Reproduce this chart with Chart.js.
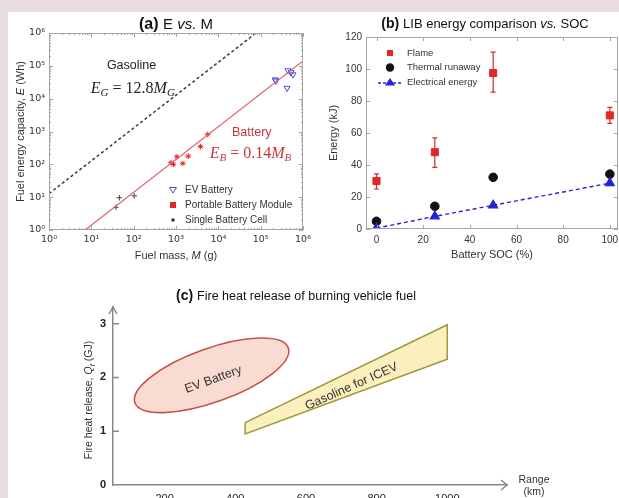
<!DOCTYPE html>
<html>
<head>
<meta charset="utf-8">
<script src="https://cdn.jsdelivr.net/npm/chart.js@4.4.1/dist/chart.umd.min.js"></script>
<style>
html, body { margin: 0; padding: 0; width: 619px; height: 498px; overflow: hidden; background: #e9dee4; }
#sheet { position: absolute; left: 8px; top: 12px; right: 0; bottom: 0; background: #fff; }
canvas { position: absolute; }
#chartA { left: 0; top: 0; }
#chartB { left: 320px; top: 0; }
#chartC { left: 0; top: 270px; }
</style>
</head>
<body>
<div id="sheet"></div>
<canvas id="chartA" width="320" height="270"></canvas>
<canvas id="chartB" width="310" height="270"></canvas>
<canvas id="chartC" width="619" height="240"></canvas>
<script>
// (a) fuel energy vs mass (log-log)
const evMass = [2.3e5, 2.2e5, 4.4e5, 5.8e5, 5.2e5, 4.2e5];
const evEnergy = [3.5e4, 3.8e4, 7.2e4, 5.4e4, 6.3e4, 2.1e4];
const moduleMass = [760, 870, 1050, 1450, 1950, 3800, 5600];
const moduleEnergy = [112, 100, 170, 107, 178, 347, 813];
const cellMass = [46, 38, 103];
const cellEnergy = [9.6, 4.9, 11];
const gasFitMass = [1, 78000];
const gasFitEnergy = [12.8, 1e6];
const batFitMass = [7.1, 1e6];
const batFitEnergy = [1, 1.4e5];
const logTicks = [1, 10, 100, 1e3, 1e4, 1e5, 1e6];
const logTickLabels = ['10⁰', '10¹', '10²', '10³', '10⁴', '10⁵', '10⁶'];

// (b) LIB energy vs SOC
const socLevels = [0, 25, 50, 100];
const flameEnergy = [30, 48, 97.5, 71];
const flameLow = [25, 38.5, 85.5, 66];
const flameHigh = [34.5, 57, 110.5, 76];
const thermalEnergy = [4.8, 14.2, 32.3, 34.3];
const electricalEnergy = [0.5, 7.9, 14.8, 28.7];
const socTicks = [0, 20, 40, 60, 80, 100];
const energyTicks = [0, 20, 40, 60, 80, 100, 120];

// (c) fire heat release vs range (schematic)
const rangeTicks = [200, 400, 600, 800, 1000];
const heatTicks = [0, 1, 2, 3];
const gasBandRange = [428, 1000, 1000, 428, 428];
const gasBandHeat = [1.16, 2.98, 2.34, 0.95, 1.16];
const evEllipseRange = [116, 550];   // ends of the long axis
const evEllipseHeat = [1.53, 2.55];

const SANS = "'Liberation Sans', Arial, sans-serif";
const SERIF = "'Liberation Serif', 'Times New Roman', serif";
Chart.defaults.font.family = SANS;
Chart.defaults.color = '#333';

function pts(xs, ys) {
    return xs.map((x, i) => ({ x: x, y: ys[i] }));
}

// mixed-font text centred on (x, y): parts = [text, font, dy]
function drawRich(ctx, parts, x, y, color, angle) {
    ctx.save();
    ctx.translate(x, y);
    if (angle) ctx.rotate(angle);
    let w = 0;
    parts.forEach(p => { ctx.font = p[1]; w += ctx.measureText(p[0]).width; });
    let cx = -w / 2;
    ctx.fillStyle = color;
    ctx.textAlign = 'left';
    ctx.textBaseline = 'alphabetic';
    parts.forEach(p => {
        ctx.font = p[1];
        ctx.fillText(p[0], cx, p[2] || 0);
        cx += ctx.measureText(p[0]).width;
    });
    ctx.restore();
}

// box round the plot with inward ticks
function drawFrame(chart, logMinor) {
    const { ctx, chartArea: a, scales } = chart;
    ctx.save();
    ctx.strokeStyle = '#a5a5a5';
    ctx.lineWidth = 1;
    ctx.strokeRect(a.left + 0.5, a.top + 0.5, a.right - a.left - 1, a.bottom - a.top - 1);
    ctx.beginPath();
    const xTick = (v, len) => {
        const px = Math.round(scales.x.getPixelForValue(v)) + 0.5;
        ctx.moveTo(px, a.bottom); ctx.lineTo(px, a.bottom - len);
        ctx.moveTo(px, a.top); ctx.lineTo(px, a.top + len);
    };
    const yTick = (v, len) => {
        const py = Math.round(scales.y.getPixelForValue(v)) + 0.5;
        ctx.moveTo(a.left, py); ctx.lineTo(a.left + len, py);
        ctx.moveTo(a.right, py); ctx.lineTo(a.right - len, py);
    };
    scales.x.ticks.forEach(t => xTick(t.value, 4));
    scales.y.ticks.forEach(t => yTick(t.value, 4));
    if (logMinor) {
        for (let k = 0; k < 6; k++) {
            for (let m = 2; m < 10; m++) {
                xTick(m * Math.pow(10, k), 2);
                yTick(m * Math.pow(10, k), 2);
            }
        }
    }
    ctx.stroke();
    ctx.restore();
}

function legendMarker(ctx, style, x, y, color) {
    ctx.save();
    ctx.strokeStyle = color;
    ctx.fillStyle = color;
    ctx.lineWidth = 1;
    ctx.beginPath();
    if (style === 'downTri') {
        ctx.moveTo(x - 3.5, y - 2.5); ctx.lineTo(x + 3.5, y - 2.5); ctx.lineTo(x, y + 3); ctx.closePath();
        ctx.stroke();
    } else if (style === 'square') {
        ctx.rect(x - 3, y - 3, 6, 6); ctx.fill();
    } else if (style === 'dot') {
        ctx.arc(x, y, 1.8, 0, Math.PI * 2); ctx.fill();
    } else if (style === 'circle') {
        ctx.arc(x, y, 4.2, 0, Math.PI * 2); ctx.fill();
    } else if (style === 'triLine') {
        ctx.setLineDash([3, 2]);
        ctx.lineWidth = 1.4;
        ctx.moveTo(x - 12, y + 1); ctx.lineTo(x + 12, y + 1); ctx.stroke();
        ctx.setLineDash([]);
        ctx.beginPath();
        ctx.moveTo(x, y - 4); ctx.lineTo(x + 5, y + 3.5); ctx.lineTo(x - 5, y + 3.5); ctx.closePath();
        ctx.fill();
    }
    ctx.restore();
}

const baseOptions = {
    responsive: false,
    animation: false,
    events: [],
    plugins: { legend: { display: false }, tooltip: { enabled: false } }
};

// ---------- (a) ----------
const panelA = {
    id: 'panelA',
    afterDraw(chart) {
        const { ctx, chartArea: a, scales: { x, y } } = chart;
        drawFrame(chart, true);
        const cx = (a.left + a.right) / 2;
        drawRich(ctx, [['(a) ', 'bold 16px ' + SANS], ['E ', '15px ' + SANS], ['vs.', 'italic 15px ' + SANS], [' M', '15px ' + SANS]], cx, 29, '#111');

        // axis titles
        drawRich(ctx, [['Fuel mass, ', '11px ' + SANS], ['M', 'italic 11px ' + SANS], [' (g)', '11px ' + SANS]], cx, 259, '#333');
        drawRich(ctx, [['Fuel energy capacity, ', '11px ' + SANS], ['E', 'italic 11px ' + SANS], [' (Wh)', '11px ' + SANS]], 24, (a.top + a.bottom) / 2, '#333', -Math.PI / 2);

        const at = (lm, le) => [x.getPixelForValue(Math.pow(10, lm)), y.getPixelForValue(Math.pow(10, le))];
        let p = at(1.95, 5.03);
        drawRich(ctx, [['Gasoline', '12.5px ' + SANS]], p[0], p[1] + 4, '#222');
        p = at(1.98, 4.33);
        drawRich(ctx, [['E', 'italic 16px ' + SERIF], ['G', 'italic 11px ' + SERIF, 3], [' = 12.8', '16px ' + SERIF], ['M', 'italic 16px ' + SERIF], ['G', 'italic 11px ' + SERIF, 3]], p[0], p[1] + 5, '#222');
        p = at(4.79, 2.99);
        drawRich(ctx, [['Battery', '12.5px ' + SANS]], p[0], p[1] + 4, '#c9343c');
        p = at(4.76, 2.34);
        drawRich(ctx, [['E', 'italic 16px ' + SERIF], ['B', 'italic 11px ' + SERIF, 3], [' = 0.14', '16px ' + SERIF], ['M', 'italic 16px ' + SERIF], ['B', 'italic 11px ' + SERIF, 3]], p[0], p[1] + 5, '#c9343c');

        // legend
        const rows = [['EV Battery', 'downTri', '#4a4ad0'], ['Portable Battery Module', 'square', '#e02828'], ['Single Battery Cell', 'dot', '#333']];
        rows.forEach((r, i) => {
            const ly = 190 + i * 15;
            legendMarker(ctx, r[1], 173, ly, r[2]);
            ctx.font = '10px ' + SANS;
            ctx.fillStyle = '#333';
            ctx.textAlign = 'left';
            ctx.textBaseline = 'middle';
            ctx.fillText(r[0], 185, ly);
        });
    }
};

const logTickFont = { size: 9.5, family: "'DejaVu Sans', sans-serif" };

new Chart(document.getElementById('chartA'), {
    type: 'scatter',
    data: {
        datasets: [
            { label: 'Gasoline fit', data: pts(gasFitMass, gasFitEnergy), showLine: true, borderColor: '#3c3c3c', borderWidth: 1.5, borderDash: [3, 2.5], pointRadius: 0 },
            { label: 'Battery fit', data: pts(batFitMass, batFitEnergy), showLine: true, borderColor: '#e46a70', borderWidth: 1.3, pointRadius: 0 },
            { label: 'EV Battery', data: pts(evMass, evEnergy), pointStyle: 'triangle', rotation: 180, pointRadius: 3.5, borderColor: '#4a4ad0', borderWidth: 1, backgroundColor: 'rgba(0,0,0,0)' },
            { label: 'Portable Battery Module', data: pts(moduleMass, moduleEnergy), pointStyle: 'star', pointRadius: 2.8, borderColor: '#e02828', borderWidth: 1 },
            { label: 'Single Battery Cell', data: pts(cellMass, cellEnergy), pointStyle: 'cross', pointRadius: 2.8, borderColor: '#444', borderWidth: 1 }
        ]
    },
    options: {
        ...baseOptions,
        layout: { padding: { left: 14, top: 33, right: 17, bottom: 8 } },
        scales: {
            x: {
                type: 'logarithmic', min: 1, max: 1e6,
                afterBuildTicks: s => { s.ticks = logTicks.map(v => ({ value: v })); },
                afterFit: s => { s.height = 32; },
                grid: { display: false, drawTicks: false },
                border: { display: false },
                ticks: { callback: (v, i) => logTickLabels[i], padding: 4, autoSkip: false, maxRotation: 0, font: logTickFont }
            },
            y: {
                type: 'logarithmic', min: 1, max: 1e6,
                afterBuildTicks: s => { s.ticks = logTicks.map(v => ({ value: v })); },
                afterFit: s => { s.width = 35; },
                grid: { display: false, drawTicks: false },
                border: { display: false },
                ticks: { callback: (v, i) => logTickLabels[i], padding: 4, autoSkip: false, font: logTickFont }
            }
        }
    },
    plugins: [panelA]
});

// ---------- (b) ----------
const panelB = {
    id: 'panelB',
    beforeDatasetsDraw(chart) {
        const { ctx, scales: { x, y } } = chart;
        ctx.save();
        ctx.strokeStyle = '#d62a2a';
        ctx.lineWidth = 1.2;
        ctx.beginPath();
        socLevels.forEach((s, i) => {
            const px = x.getPixelForValue(s);
            const lo = y.getPixelForValue(flameLow[i]);
            const hi = y.getPixelForValue(flameHigh[i]);
            ctx.moveTo(px, lo); ctx.lineTo(px, hi);
            ctx.moveTo(px - 2.5, lo); ctx.lineTo(px + 2.5, lo);
            ctx.moveTo(px - 2.5, hi); ctx.lineTo(px + 2.5, hi);
        });
        ctx.stroke();
        ctx.restore();
    },
    afterDraw(chart) {
        const { ctx } = chart;
        drawFrame(chart, false);
        drawRich(ctx, [['(b) ', 'bold 14px ' + SANS], ['LIB energy comparison ', '13px ' + SANS], ['vs.', 'italic 13px ' + SANS], [' SOC', '13px ' + SANS]], 165, 28, '#111');
        const rows = [['Flame', 'square', '#e02828'], ['Thermal runaway', 'circle', '#111'], ['Electrical energy', 'triLine', '#2424d8']];
        rows.forEach((r, i) => {
            const ly = 53 + i * 14.5;
            legendMarker(ctx, r[1], 70, ly, r[2]);
            ctx.font = '9.5px ' + SANS;
            ctx.fillStyle = '#333';
            ctx.textAlign = 'left';
            ctx.textBaseline = 'middle';
            ctx.fillText(r[0], 87, ly);
        });
    }
};

new Chart(document.getElementById('chartB'), {
    type: 'scatter',
    data: {
        datasets: [
            { label: 'Electrical energy', data: pts(socLevels, electricalEnergy), showLine: true, borderColor: '#2424d8', borderWidth: 1.4, borderDash: [4, 3], pointStyle: 'triangle', pointRadius: 5, backgroundColor: '#2424d8', pointBorderColor: '#2424d8' },
            { label: 'Thermal runaway', data: pts(socLevels, thermalEnergy), pointStyle: 'circle', pointRadius: 4.3, backgroundColor: '#111', borderColor: '#111' },
            { label: 'Flame', data: pts(socLevels, flameEnergy), pointStyle: 'rect', pointRadius: 5, backgroundColor: '#e02828', borderColor: '#e02828' }
        ]
    },
    options: {
        ...baseOptions,
        layout: { padding: { left: 7, top: 37, right: 12, bottom: 8 } },
        scales: {
            x: {
                type: 'linear', min: -4.5, max: 103.5,
                afterBuildTicks: s => { s.ticks = socTicks.map(v => ({ value: v })); },
                afterFit: s => { s.height = 33; },
                grid: { display: false, drawTicks: false },
                border: { display: false },
                ticks: { padding: 5, autoSkip: false, maxRotation: 0, font: { size: 10 } },
                title: { display: true, text: 'Battery SOC (%)', padding: 0, font: { size: 11 } }
            },
            y: {
                type: 'linear', min: 0, max: 120,
                afterBuildTicks: s => { s.ticks = energyTicks.map(v => ({ value: v })); },
                afterFit: s => { s.width = 39; },
                grid: { display: false, drawTicks: false },
                border: { display: false },
                ticks: { padding: 4, autoSkip: false, font: { size: 10 } },
                title: { display: true, text: 'Energy (kJ)', padding: 0, font: { size: 11 } }
            }
        }
    },
    plugins: [panelB]
});

// ---------- (c) ----------
const panelC = {
    id: 'panelC',
    beforeDatasetsDraw(chart) {
        const { ctx, scales: { x, y } } = chart;
        const x1 = x.getPixelForValue(evEllipseRange[0]), y1 = y.getPixelForValue(evEllipseHeat[0]);
        const x2 = x.getPixelForValue(evEllipseRange[1]), y2 = y.getPixelForValue(evEllipseHeat[1]);
        const rx = Math.hypot(x2 - x1, y2 - y1) / 2;
        ctx.save();
        ctx.beginPath();
        ctx.ellipse((x1 + x2) / 2, (y1 + y2) / 2, rx, rx * 0.33, Math.atan2(y2 - y1, x2 - x1), 0, Math.PI * 2);
        ctx.fillStyle = '#f8dcd2';
        ctx.fill();
        ctx.strokeStyle = '#c9504c';
        ctx.lineWidth = 1.6;
        ctx.stroke();
        ctx.restore();
    },
    afterDraw(chart) {
        const { ctx, chartArea: a, scales: { x, y } } = chart;
        drawRich(ctx, [['(c) ', 'bold 14px ' + SANS], ['Fire heat release of burning vehicle fuel', '12.5px ' + SANS]], 296, 30, '#111');
        drawRich(ctx, [['Fire heat release, ', '10.5px ' + SANS], ['Q', 'italic 10.5px ' + SANS], ['f', 'italic 8px ' + SANS, 2.5], [' (GJ)', '10.5px ' + SANS]], 92, (a.top + a.bottom) / 2 + 4, '#333', -Math.PI / 2);

        // arrow heads and inward ticks
        ctx.save();
        ctx.strokeStyle = '#888';
        ctx.lineWidth = 1.5;
        ctx.beginPath();
        ctx.moveTo(a.left - 4, a.top + 7); ctx.lineTo(a.left, a.top); ctx.lineTo(a.left + 4, a.top + 7);
        ctx.moveTo(a.right - 6, a.bottom - 5); ctx.lineTo(a.right, a.bottom); ctx.lineTo(a.right - 6, a.bottom + 5);
        heatTicks.slice(1).forEach(v => {
            const py = y.getPixelForValue(v);
            ctx.moveTo(a.left, py); ctx.lineTo(a.left + 6, py);
        });
        ctx.stroke();
        ctx.restore();

        ctx.save();
        ctx.font = '10.5px ' + SANS;
        ctx.fillStyle = '#333';
        ctx.textAlign = 'center';
        ctx.textBaseline = 'middle';
        ctx.fillText('Range', a.right + 27, a.bottom - 5);
        ctx.fillText('(km)', a.right + 27, a.bottom + 7);
        ctx.restore();

        const label = (txt, xv, yv, ang) => {
            ctx.save();
            ctx.translate(x.getPixelForValue(xv), y.getPixelForValue(yv));
            ctx.rotate(ang * Math.PI / 180);
            ctx.font = '12.5px ' + SANS;
            ctx.fillStyle = '#333';
            ctx.textAlign = 'center';
            ctx.textBaseline = 'middle';
            ctx.fillText(txt, 0, 0);
            ctx.restore();
        };
        label('EV Battery', 338, 1.96, -20);
        label('Gasoline for ICEV', 729, 1.83, -24);
    }
};

new Chart(document.getElementById('chartC'), {
    type: 'scatter',
    data: {
        datasets: [
            { label: 'Gasoline for ICEV', data: pts(gasBandRange, gasBandHeat), showLine: true, fill: 'shape', borderColor: '#9c9838', borderWidth: 1.5, backgroundColor: '#fcefbe', pointRadius: 0, tension: 0 }
        ]
    },
    options: {
        ...baseOptions,
        layout: { padding: { left: 82, top: 37, right: 112, bottom: 0 } },
        scales: {
            x: {
                type: 'linear', min: 54, max: 1169,
                afterBuildTicks: s => { s.ticks = rangeTicks.map(v => ({ value: v })); },
                afterFit: s => { s.height = 25; },
                grid: { display: false, drawTicks: false },
                border: { display: true, color: '#888', width: 1.5 },
                ticks: { callback: v => String(v), padding: 7, autoSkip: false, maxRotation: 0, color: '#222', font: { size: 11 } }
            },
            y: {
                type: 'linear', min: 0, max: 3.31,
                afterBuildTicks: s => { s.ticks = heatTicks.map(v => ({ value: v })); },
                afterFit: s => { s.width = 31; },
                grid: { display: false, drawTicks: false },
                border: { display: true, color: '#888', width: 1.5 },
                ticks: { padding: 7, autoSkip: false, color: '#222', font: { size: 11, weight: 'bold' } }
            }
        }
    },
    plugins: [panelC]
});
</script>
</body>
</html>
